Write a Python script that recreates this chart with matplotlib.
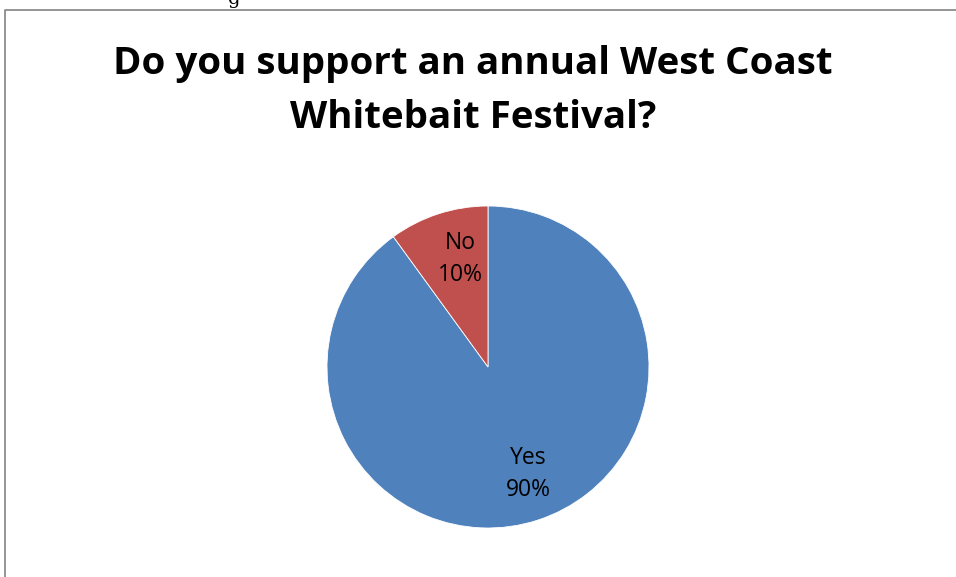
import matplotlib
matplotlib.use('Agg')
from matplotlib import pyplot as plt
from matplotlib.lines import Line2D

# data
labels = ['Yes', 'No']
values = [90, 10]
colors = ['#4F81BD', '#C0504D']
title = 'Do you support an annual West Coast\nWhitebait Festival?'

W, H = 956, 577
fig = plt.figure(figsize=(W / 100, H / 100), dpi=100)

# chart frame (only left and top edges are visible)
fx, fy = 4.5 / W, 1 - 9.5 / H
fig.lines.append(Line2D([fx, fx, 1.0], [0.0, fy, fy], transform=fig.transFigure,
                        color='#8c8c8c', linewidth=1.3))

# descender of text above the chart
fig.text(234 / W, 1 - 4 / H, 'g', ha='center', va='baseline',
         family='DejaVu Serif', fontsize=14, color='black')

fig.text(473 / W, 1 - 91 / H, title, ha='center', va='center',
         family='Open Sans', fontweight='bold', fontsize=27.7,
         linespacing=1.55)

r = 161
cx, cy = 488, 367
ax = fig.add_axes([(cx - r) / W, 1 - (cy + r) / H, 2 * r / W, 2 * r / H])
wedges, _ = ax.pie(values, colors=colors, startangle=90, counterclock=False,
                   wedgeprops=dict(edgecolor='white', linewidth=0.6))
ax.set_xlim(-1, 1)
ax.set_ylim(-1, 1)
ax.set_aspect('auto')

# data labels
pos = {'Yes': (528, 474), 'No': (460, 259)}
for lab, v in zip(labels, values):
    x, y = pos[lab]
    fig.text(x / W, 1 - y / H, '%s\n%d%%' % (lab, v), ha='center', va='center',
             family='Open Sans', fontsize=16.5, linespacing=1.4)

fig.savefig('out.png', dpi=100)
